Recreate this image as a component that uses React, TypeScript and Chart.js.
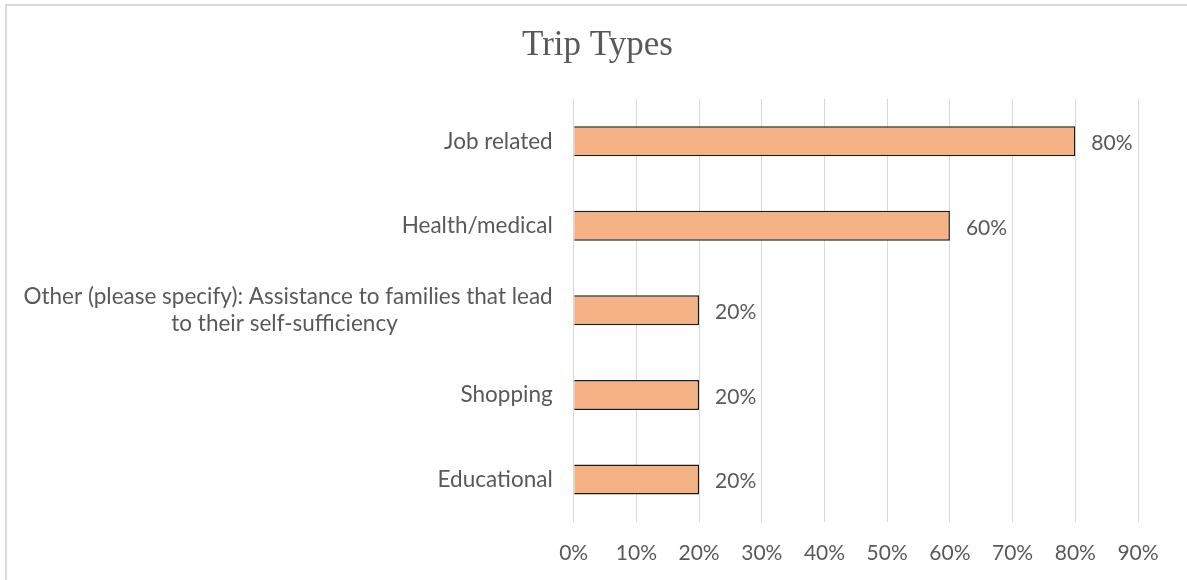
import React, { useEffect, useRef } from 'react';
import { Chart, registerables } from 'chart.js';

Chart.register(...registerables);

const NBSP = '\u00a0';

const categories: (string | string[])[] = [
  'Job related',
  'Health/medical',
  ['Other (please specify): Assistance to families that lead', 'to their self-sufficiency' + NBSP.repeat(27)],
  'Shopping',
  'Educational',
];
const values = [80, 60, 20, 20, 20];
const xMin = 0;
const xMax = 90;
const xStep = 10;
const title = 'Trip Types';

const TEXT = '#595959';
const LABEL_FONT = "Lato, 'Liberation Sans', sans-serif";

const valueLabels = {
  id: 'valueLabels',
  afterDatasetsDraw(chart: any) {
    const ctx = chart.ctx;
    const meta = chart.getDatasetMeta(0);
    ctx.save();
    ctx.font = `21px ${LABEL_FONT}`;
    ctx.fillStyle = TEXT;
    ctx.textAlign = 'left';
    ctx.textBaseline = 'middle';
    meta.data.forEach((el: any, i: number) => {
      ctx.fillText(values[i] + '%', el.x + 16, el.y + 2);
    });
    ctx.restore();
  },
};

export default function App() {
  const ref = useRef<HTMLCanvasElement>(null);
  useEffect(() => {
    document.documentElement.style.overflow = 'hidden';
    document.body.style.overflow = 'hidden';
    if (!ref.current) return;
    const chart = new Chart(ref.current, {
      type: 'bar',
      data: {
        labels: categories as any,
        datasets: [
          {
            data: values,
            backgroundColor: '#F4B183',
            borderColor: '#1a1a1a',
            borderWidth: 1.5,
            categoryPercentage: 1,
            barPercentage: 0.355,
          },
        ],
      },
      options: {
        indexAxis: 'y',
        animation: false,
        responsive: false,
        devicePixelRatio: 1,
        layout: { padding: { left: 8, right: 0, top: 10, bottom: 0 } },
        plugins: {
          legend: { display: false },
          tooltip: { enabled: false },
          title: {
            display: true,
            text: title,
            color: TEXT,
            font: { family: "'Liberation Serif', serif", size: 35, weight: 'normal' as any },
            padding: { top: 15, bottom: 32 },
          },
        },
        scales: {
          x: {
            min: xMin,
            max: xMax,
            ticks: {
              stepSize: xStep,
              color: TEXT,
              padding: 19,
              font: { family: LABEL_FONT, size: 21 },
              callback: (v: any) => v + '%',
            },
            grid: { color: '#d9d9d9', lineWidth: 1, drawTicks: false },
            border: { display: false },
            afterFit: (s: any) => {
              s.height = 58.3;
            },
          },
          y: {
            ticks: {
              color: TEXT,
              padding: 21,
              font: { family: LABEL_FONT, size: 22.5, lineHeight: 1.2 },
            },
            grid: { display: false, drawTicks: false },
            border: { display: false },
            afterFit: (s: any) => {
              s.width = 565.7;
            },
          },
          yRight: {
            type: 'linear',
            position: 'right',
            display: true,
            ticks: { display: false },
            grid: { display: false, drawTicks: false },
            border: { display: false },
            afterFit: (s: any) => {
              s.width = 49;
            },
          },
        },
      },
      plugins: [valueLabels],
    });
    return () => chart.destroy();
  }, []);

  return (
    <div
      style={{
        position: 'absolute',
        left: 0,
        top: 0,
        width: 1187,
        height: 580,
        overflow: 'hidden',
        background: '#fff',
      }}
    >
      <canvas ref={ref} width={1187} height={580} style={{ position: 'absolute', left: 0, top: 0 }} />
      <div
        style={{
          position: 'absolute',
          left: 5,
          top: 4,
          width: 1400,
          height: 800,
          borderTop: '2px solid #d9d9d9',
          borderLeft: '2px solid #d9d9d9',
          pointerEvents: 'none',
        }}
      />
    </div>
  );
}
